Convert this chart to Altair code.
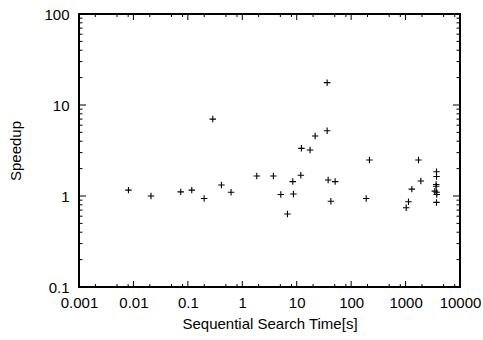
import altair as alt
import pandas as pd

# Data
search_time = [0.0081, 0.021, 0.074, 0.118, 0.199, 0.287, 0.413, 0.622, 1.85, 3.73,
               5.1, 6.76, 8.47, 8.7, 11.9, 12.2, 17.6, 21.8, 36.2, 36.2,
               37.8, 42.4, 50.8, 189, 217, 1026, 1132, 1303, 1727, 1910,
               3700, 3700, 3650, 3650, 3450, 3720, 3740, 3700]
speedup = [1.16, 1.0, 1.11, 1.16, 0.94, 7.0, 1.32, 1.10, 1.66, 1.66,
           1.04, 0.634, 1.44, 1.05, 1.69, 3.34, 3.2, 4.56, 17.6, 5.22,
           1.5, 0.875, 1.44, 0.94, 2.49, 0.744, 0.865, 1.19, 2.49, 1.46,
           1.85, 1.64, 1.34, 1.28, 1.13, 1.10, 1.04, 0.85]

x_major = [0.001, 0.01, 0.1, 1, 10, 100, 1000, 10000]
x_minor = [m * d for d in [0.001, 0.01, 0.1, 1, 10, 100, 1000] for m in (2, 5, 8)]
y_major = [0.1, 1, 10, 100]
y_minor = [m * d for d in [0.1, 1, 10] for m in range(2, 10)]

W, H = 381, 273
FONT = "Liberation Sans"

xscale = alt.Scale(type="log", domain=[0.001, 10000], nice=False)
yscale = alt.Scale(type="log", domain=[0.1, 100], nice=False)

pts = pd.DataFrame({"t": search_time, "s": speedup})

points = alt.Chart(pts).mark_point(
    shape="M-1,0L1,0M0,-1L0,1", filled=False, color="black", strokeWidth=1.1, size=42, opacity=1
).encode(
    x=alt.X("t:Q", scale=xscale, title="Sequential Search Time[s]",
            axis=alt.Axis(values=x_major, format="~g", ticks=False, domain=False, grid=False,
                          labelPadding=8, titlePadding=6, labelFlush=False)),
    y=alt.Y("s:Q", scale=yscale, title="Speedup",
            axis=alt.Axis(values=y_major, format="~g", ticks=False, domain=False, grid=False,
                          labelPadding=10, titlePadding=20)),
)

def xticks(vals, length):
    df = pd.DataFrame({"t": vals})
    bottom = alt.Chart(df).mark_rule(color="black", strokeWidth=1).encode(
        x=alt.X("t:Q", scale=xscale), y=alt.value(H), y2=alt.value(H - length))
    top = alt.Chart(df).mark_rule(color="black", strokeWidth=1).encode(
        x=alt.X("t:Q", scale=xscale), y=alt.value(0), y2=alt.value(length))
    return [bottom, top]

def yticks(vals, length):
    df = pd.DataFrame({"s": vals})
    left = alt.Chart(df).mark_rule(color="black", strokeWidth=1).encode(
        y=alt.Y("s:Q", scale=yscale), x=alt.value(0), x2=alt.value(length))
    right = alt.Chart(df).mark_rule(color="black", strokeWidth=1).encode(
        y=alt.Y("s:Q", scale=yscale), x=alt.value(W), x2=alt.value(W - length))
    return [left, right]

layers = [points] + (xticks(x_major, 6) + xticks(x_minor, 3) + yticks(y_major, 7)
                     + yticks(y_minor, 3.5))

chart = alt.layer(*layers).properties(
    width=W, height=H,
    background="white",
    autosize=alt.AutoSizeParams(type="none"),
    padding={"left": 79, "top": 14, "right": 483 - 79 - W, "bottom": 340 - 14 - H},
).configure_view(
    stroke="black", strokeWidth=2
).configure_axis(
    labelFont=FONT, titleFont=FONT, labelFontSize=15, titleFontSize=15,
    labelColor="black", titleColor="black", titleFontWeight="normal"
)

chart.save("out.html", embed_options={"renderer": "svg", "actions": False})
